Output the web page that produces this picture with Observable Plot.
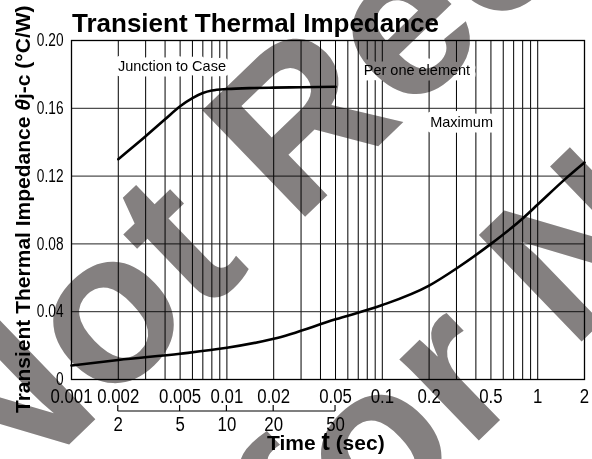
<!DOCTYPE html>
<html><head><meta charset="utf-8">
<script src="https://cdn.jsdelivr.net/npm/d3@7"></script>
<script src="https://cdn.jsdelivr.net/npm/@observablehq/plot@0.6"></script>
<style>
html,body{margin:0;padding:0;background:#fff;}
#chart{position:relative;width:592px;height:459px;overflow:hidden;}
</style></head><body><div id="chart"></div>
<script>
// ---- data ----
const xTicks = [0.001, 0.002, 0.005, 0.01, 0.02, 0.05, 0.1, 0.2, 0.5, 1, 2];
const xTickLabels = ["0.001", "0.002", "0.005", "0.01", "0.02", "0.05", "0.1", "0.2", "0.5", "1", "2"];
const xGrid = [0.002,0.003,0.004,0.005,0.006,0.007,0.008,0.009,0.01,0.02,0.03,0.04,0.05,0.06,0.07,0.08,0.09,0.1,0.2,0.3,0.4,0.5,0.6,0.7,0.8,0.9,1];
const yTicks = [0, 0.04, 0.08, 0.12, 0.16, 0.20];
const yTickLabels = ["0", "0.04", "0.08", "0.12", "0.16", "0.20"];
const yGrid = [0.04, 0.08, 0.12, 0.16];
const msTicks = [0.002, 0.005, 0.01, 0.02, 0.05];
const msTickLabels = ["2", "5", "10", "20", "50"];
const junctionT = [0.002, 0.003, 0.004, 0.005, 0.006, 0.007, 0.008, 0.01, 0.015, 0.02, 0.03, 0.05];
const junctionZ = [0.130, 0.1435, 0.1535, 0.1612, 0.1660, 0.1690, 0.1705, 0.1714, 0.1720, 0.1722, 0.1724, 0.1727];
const maximumT = [0.001, 0.002, 0.005, 0.01, 0.02, 0.05, 0.1, 0.2, 0.3, 0.5, 0.8, 1, 1.5, 2];
const maximumZ = [0.0082, 0.0115, 0.0152, 0.0187, 0.0240, 0.0355, 0.0439, 0.0554, 0.0655, 0.080, 0.095, 0.1032, 0.1182, 0.128];
const noteTexts = ["Junction to Case", "Per one element", "Maximum"];
const noteT = [0.00443, 0.167, 0.3236];
const noteZ = [0.185, 0.1826, 0.152];
const titleText = "Transient Thermal Impedance";
const watermarkLines = ["Not Recommended", "for New Design"];

// ---- build ----
const junction = junctionT.map((t, i) => ({t, z: junctionZ[i]}));
const maximum = maximumT.map((t, i) => ({t, z: maximumZ[i]}));
const notes = noteTexts.map((text, i) => ({text, t: noteT[i], z: noteZ[i]}));
const sans = "'Liberation Sans',Arial,Helvetica,sans-serif";

const plot = Plot.plot({
  width: 592, height: 459,
  marginTop: 40, marginLeft: 71, marginRight: 8, marginBottom: 80,
  x: {type: "log", domain: [0.001, 2], axis: null},
  y: {domain: [0, 0.2], axis: null},
  style: {background: "white", fontFamily: sans, color: "black"},
  marks: [
    Plot.ruleX(xGrid, {stroke: "#000", strokeWidth: 1, strokeOpacity: 1}),
    Plot.ruleY(yGrid, {stroke: "#222", strokeWidth: 1, strokeOpacity: 1}),
    Plot.frame({stroke: "#000", strokeWidth: 1.3}),
    Plot.text(notes, {x: "t", y: "z", text: "text", fontSize: 14.5, fill: "white", stroke: "white", strokeWidth: 11, strokeLinejoin: "round"}),
    Plot.line(junction, {x: "t", y: "z", curve: "monotone-x", stroke: "#000", strokeWidth: 2.6}),
    Plot.line(maximum, {x: "t", y: "z", curve: "monotone-x", stroke: "#000", strokeWidth: 2.6}),
    Plot.text(notes, {x: "t", y: "z", text: "text", fontSize: 14.5, fill: "black"}),
    Plot.text(xTicks, {x: d => d, text: (d, i) => xTickLabels[i], frameAnchor: "bottom", dy: 17, lineAnchor: "middle", fontSize: 20, fill: "black", ariaLabel: () => "narrow-x"}),
    Plot.text(yTicks, {y: d => d, text: (d, i) => yTickLabels[i], frameAnchor: "left", dx: -8, textAnchor: "end", lineAnchor: "middle", fontSize: 18, fill: "black", ariaLabel: () => "narrow-y"}),
    Plot.text(msTicks, {x: d => d, text: (d, i) => msTickLabels[i], frameAnchor: "bottom", dy: 45, lineAnchor: "middle", fontSize: 20, fill: "black", ariaLabel: () => "narrow-x"})
  ]
});

const svg = d3.select(plot);
const xs = plot.scale("x");
// secondary (ms) axis line and ticks
const msY = 411;
svg.append("line")
  .attr("x1", xs.apply(msTicks[0])).attr("x2", xs.apply(msTicks[msTicks.length - 1]))
  .attr("y1", msY).attr("y2", msY).attr("stroke", "#000").attr("stroke-width", 1.2);
svg.append("g").selectAll("line").data(msTicks).join("line")
  .attr("x1", d => xs.apply(d)).attr("x2", d => xs.apply(d))
  .attr("y1", msY - 6).attr("y2", msY).attr("stroke", "#000").attr("stroke-width", 1.2);

// title
svg.append("text").attr("x", 72).attr("y", 32).attr("text-anchor", "start")
  .attr("font-family", sans).attr("font-weight", "bold").attr("font-size", 26)
  .attr("fill", "#000").text(titleText);

// y label
const yl = svg.append("text").attr("transform", "translate(29.5,413) rotate(-90)").attr("text-anchor", "start")
  .attr("font-family", sans).attr("font-weight", "bold").attr("font-size", 21).attr("fill", "#000");
yl.append("tspan").text("Transient Thermal Impedance ");
yl.append("tspan").attr("font-style", "italic").text("θ");
yl.append("tspan").text("j-c (°C/W)");

// x label
const xl = svg.append("text").attr("x", 267).attr("y", 450).attr("text-anchor", "start")
  .attr("font-family", sans).attr("font-weight", "bold").attr("font-size", 21).attr("fill", "#000");
xl.append("tspan").text("Time ");
xl.append("tspan").attr("font-size", 25).text("t");
xl.append("tspan").text(" (sec)");

// watermark
const wm = svg.append("g").style("mix-blend-mode", "multiply").attr("text-anchor", "start")
  .attr("font-family", sans).attr("font-weight", "bold").attr("font-size", 215).attr("fill", "#848080");
wm.append("text").attr("transform", "translate(-6,517) rotate(-44)").text(watermarkLines[0]);
wm.append("text").attr("transform", "translate(322,592) rotate(-44)").text(watermarkLines[1]);

document.getElementById("chart").appendChild(plot);

// condense tick label glyphs horizontally (no narrow face installed)
function condense(sel, k) {
  svg.selectAll(sel).each(function() {
    const w = this.getComputedTextLength();
    this.setAttribute("textLength", (w * k).toFixed(2));
    this.setAttribute("lengthAdjust", "spacingAndGlyphs");
  });
}
condense('text[aria-label="narrow-x"]', 0.84);
condense('text[aria-label="narrow-y"]', 0.76);
</script></body></html>
